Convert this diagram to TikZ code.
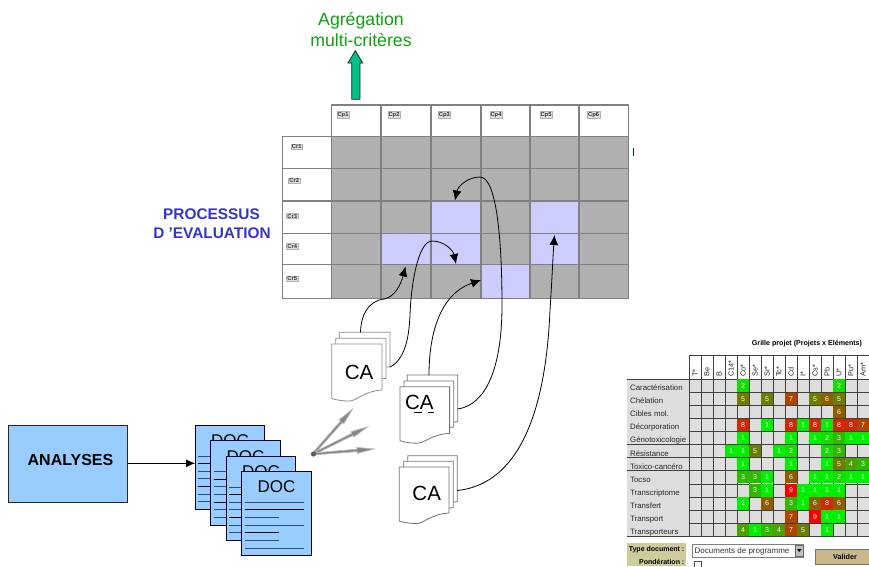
\documentclass[tikz,border=0pt]{standalone}
\usepackage{fontspec}
\setmainfont{Liberation Sans}
\usetikzlibrary{arrows.meta}
\definecolor{gridline}{HTML}{808080}
\definecolor{cellgray}{HTML}{B0B0B0}
\definecolor{cellhi}{HTML}{CCCCFF}
\definecolor{docblue}{HTML}{99CCFF}
\definecolor{docrule}{HTML}{2F4F6F}
\definecolor{agreen}{HTML}{12A012}
\definecolor{tealfill}{HTML}{00C08C}
\definecolor{procblue}{HTML}{3535C8}
\definecolor{formkhaki}{HTML}{CFCB9B}
\definecolor{btnkhaki}{HTML}{C8B88C}
\definecolor{vA}{HTML}{00F000}\definecolor{vB}{HTML}{14DC00}\definecolor{vC}{HTML}{2EB800}
\definecolor{vD}{HTML}{4CA000}\definecolor{vE}{HTML}{6E7C00}\definecolor{vF}{HTML}{8C5E00}
\definecolor{vG}{HTML}{AE4400}\definecolor{vH}{HTML}{D02800}\definecolor{vI}{HTML}{F80000}
\tikzset{
  gcell/.style={draw=gridline,line width=1.2pt,fill=cellgray},
  wcell/.style={draw=gridline,line width=1.2pt,fill=white},
  hcell/.style={draw=gridline,line width=1.2pt,fill=cellhi},
  chip/.style={draw=gray!60,fill=gray!25,line width=.6pt,inner sep=.7pt,font=\fontsize{5.8}{6}\selectfont\bfseries,text=black!80},
  flow/.style={black,line width=.8pt,-{Latex[length=10pt,width=9pt]}},
  sheetline/.style={line width=.8pt,fill=white},
  docsheet/.style={draw=black!80!blue,line width=.8pt,fill=docblue},
  grayarrow/.style={draw=gray!55,line width=.7pt,fill=gray!95},
  tcell/.style={draw=black!75,line width=.6pt,fill=black!13},
  tnum/.style={text=white,font=\fontsize{7}{8}\selectfont},
  tlabel/.style={anchor=base west,font=\fontsize{7.8}{8}\selectfont,text=black!85,inner sep=0pt},
  thead/.style={rotate=90,anchor=west,font=\fontsize{7.3}{8}\selectfont,text=black!85,inner sep=0pt},
  formlabel/.style={anchor=base east,inner sep=0pt,font=\fontsize{7}{8}\selectfont\bfseries},
}
% x y w hR hL colour
\newcommand{\casheet}[6]{\path[sheetline,draw=#6] (#1,#2) -- ({#1+#3},#2) -- ({#1+#3},{#2+#4})
  .. controls ({#1+#3-18},{#2+#4+1}) and ({#1+#3-26},{#2+#5+3}) .. ({#1+17},{#2+#5+2.5})
  .. controls ({#1+10},{#2+#5+2.5}) and ({#1+5},{#2+#5+1.5}) .. (#1,{#2+#5}) -- cycle;}
\newcommand{\docsheet}[3]{%
  \path[docsheet] (#1,#2) rectangle ++(69.5,84.5);
  \node[inner sep=0pt,font=\fontsize{17}{20}\selectfont] (#3) at ({#1+34.7},{#2+15.7}) {DOC};
  \foreach \d/\l/\c in {31/59/docrule,38.5/59/black,46/34/docrule,53.7/59/docrule,61.3/34/black,69/34/docrule,76.7/59/docrule}
    \draw[\c,line width=.8pt] ({#1+3},{#2+\d}) -- ++(\l,0);}
% angle, length
\newcommand{\grayspike}[2]{\path[grayarrow,shift={(fan)},rotate=#1] (0,1) -- ({#2-17},1.2) -- ({#2-17},3) -- (#2,0) -- ({#2-17},-3) -- ({#2-17},-1.2) -- (0,-1) -- cycle;}
\begin{document}
\begin{tikzpicture}[x=1pt,y=-1pt]
\clip (0,0) rectangle (869,566);
\fill[white] (0,0) rectangle (869,566);
% heading
\node[text=agreen,font=\fontsize{17.7}{20}\selectfont,align=center,inner sep=0pt] (agg) at (361,29.5) {Agrégation\\[1.8pt]multi-critères};
\path[draw=black!85,line width=.8pt,fill=tealfill] (351.7,99.3) -- (351.7,63) -- (348,63) -- (355.3,50.7) -- (362.7,63) -- (360,63) -- (360,99.3) -- cycle;
\node[text=procblue,font=\fontsize{15.4}{16}\selectfont\bfseries,inner sep=0pt] (proc1) at (211.5,214.3) {PROCESSUS};
\node[text=procblue,font=\fontsize{15.4}{16}\selectfont\bfseries,inner sep=0pt] (proc2) at (212,233.3) {D 'EVALUATION};
% matrix
\foreach \xa/\xb in {331.7/381,381/431,431/481,481/530,530/579,579/628.3}{
  \path[wcell] (\xa,105) rectangle (\xb,136.7);
  \foreach \ya/\yb in {136.7/168.3,168.3/201,201/233.3,233.3/264.3,264.3/298.3}
    \path[gcell] (\xa,\ya) rectangle (\xb,\yb);
}
\foreach \ya/\yb in {136.7/168.3,168.3/201,201/233.3,233.3/264.3,264.3/298.3}
  \path[wcell] (282.7,\ya) rectangle (331.7,\yb);
\path[hcell] (431,201) rectangle (481,233.3);
\path[hcell] (530,201) rectangle (579,233.3);
\path[hcell] (381,233.3) rectangle (431,264.3);
\path[hcell] (431,233.3) rectangle (481,264.3);
\path[hcell] (530,233.3) rectangle (579,264.3);
\path[hcell] (481,264.3) rectangle (530,298.3);
\foreach \n/\x in {1/343,2/394,3/444.3,4/496,5/546,6/593.7}
  \node[chip] (cp\n) at (\x,114.7) {Cp\n};
\foreach \n/\x/\y in {1/296.7/146.7,2/294.3/180.7,3/292.3/216,4/292.3/246.3,5/292.3/278.7}
  \node[chip] (cr\n) at (\x,\y) {Cr\n};
\draw[black!60!teal,line width=.9pt] (633,148) -- (633,156);
% CA stacks
\casheet{339.3}{332.3}{50.7}{34.5}{44}{black!45}
\casheet{335.7}{338.3}{50.3}{40}{48}{black!45}
\casheet{331.7}{344}{50.3}{46}{54.5}{black!45}
\node[inner sep=0pt,font=\fontsize{20.5}{24}\selectfont] (ca1) at (359,372) {CA};
\casheet{407.3}{375}{50.4}{46.7}{54}{black!55}
\casheet{404}{381}{49.7}{46}{54}{black!55}
\casheet{400}{386.7}{49.6}{46.6}{54}{black!55}
\node[inner sep=0pt,font=\fontsize{20.5}{24}\selectfont] (ca2) at (419.3,402.7) {CA};
\draw[black,line width=.6pt] (414,412.7) -- (421.7,412.7) (428,412.7) -- (434,412.7);
\casheet{407.7}{455.7}{49.5}{46}{54}{black!55}
\casheet{403.7}{461.3}{49.6}{46.4}{54}{black!55}
\casheet{399.3}{467}{49.7}{46}{54}{black!55}
\node[inner sep=0pt,font=\fontsize{20.5}{24}\selectfont] (ca3) at (426.7,493) {CA};
% analyses
\path[draw=black!85,line width=.9pt,fill=docblue] (8.3,425) rectangle (127.7,502.3);
\node[inner sep=0pt,font=\fontsize{16}{18}\selectfont\bfseries] (ana) at (70.5,459.5) {ANALYSES};
% DOC stack
\coordinate (docin) at (195,463.3);
\coordinate (anaout) at (127.7,463.3);
\docsheet{195.3}{425}{doca}
\docsheet{210.7}{440.6}{docb}
\docsheet{226.3}{456}{docc}
\docsheet{241.8}{471.2}{docd}
\draw[black,line width=.8pt,-{Latex[length=9pt,width=8pt]}] (anaout) -- (docin);
% gray arrows
\coordinate (fan) at (313,454);
\grayspike{48.6}{60}
\grayspike{26.5}{61}
\grayspike{4.7}{61.2}
\fill[gray!70!black] (313.5,454) circle (2.6pt);
% connectors
\coordinate (ta) at (405.5,266.5);
\coordinate (tb) at (456,264);
\coordinate (tc) at (481,280);
\coordinate (td) at (455,200.5);
\coordinate (te) at (554.5,235);
\coordinate (sa) at (360.5,332.3);
\coordinate (sb) at (390,367);
\coordinate (sc) at (429,375);
\coordinate (sd) at (457.7,409);
\coordinate (se) at (457.2,490.5);
\draw[flow] (sa) .. controls (361,315) and (368,301) .. (384,299) .. controls (395,297) and (401,284) .. (ta);
\draw[flow] (sb) .. controls (404,360) and (409,340) .. (410,315) .. controls (411,285) and (418,241) .. (432,241) .. controls (444,241) and (453,250) .. (tb);
\draw[flow] (sc) .. controls (429,345) and (435,296) .. (tc);
\draw[flow] (sd) .. controls (485,405) and (502,370) .. (502,305) .. controls (502,250) and (498,177) .. (480,177) .. controls (468,177) and (458,186) .. (td);
\draw[flow] (se) .. controls (510,485) and (545,430) .. (550,310) .. controls (552,280) and (553,255) .. (te);
% right table
\node[font=\fontsize{7.1}{8}\selectfont\bfseries,inner sep=0pt] (gtitle) at (807,344) {Grille projet (Projets x Eléments)};
\draw[black!75,line width=.6pt] (689,355) -- (869,355);
\foreach \i/\h in {0/T*,1/Be,2/B,3/C14*,4/Co*,5/Se*,6/Sr*,7/Tc*,8/Cd,9/I*,10/Cs*,11/Pb,12/U*,13/Pu*,14/Am*}{
  \draw[black!75,line width=.6pt] ({689+12*\i},355) -- ({689+12*\i},379);
  \node[thead] (h\i) at ({695+12*\i},377) {\h};
  \foreach \r in {0,...,11}
    \path[tcell] ({689+12*\i},{379+13.1*\r}) rectangle ++(12,13.1);
}
\foreach \r/\t in {0/Caractérisation,1/Chélation,2/Cibles mol.,3/Décorporation,4/Génotoxicologie,5/Résistance,6/Toxico-cancéro,7/Tocso,8/Transcriptome,9/Transfert,10/Transport,11/Transporteurs}{
  \path[fill=black!13] (627,{379+13.1*\r}) rectangle (689,{392.1+13.1*\r});
  \draw[black!75,line width=.6pt] (627,{392.1+13.1*\r}) -- (689,{392.1+13.1*\r});
  \node[tlabel] (l\r) at (630,{390.5+13.1*\r}) {\t};
}
\draw[black!75,line width=.6pt] (627,379) -- (689,379);
\foreach \c/\r/\v/\k in {%
4/0/2/vB,12/0/2/vB,
4/1/5/vE,6/1/5/vE,8/1/7/vG,10/1/5/vE,11/1/6/vF,12/1/5/vE,
12/2/6/vF,
4/3/8/vH,6/3/1/vA,8/3/8/vH,9/3/1/vA,10/3/8/vH,11/3/1/vA,12/3/8/vH,13/3/8/vH,14/3/7/vG,
4/4/1/vA,8/4/1/vA,10/4/1/vA,11/4/2/vB,12/4/3/vC,13/4/1/vA,14/4/1/vA,
3/5/1/vA,4/5/1/vA,5/5/5/vE,7/5/1/vA,8/5/2/vB,11/5/2/vB,12/5/3/vC,
4/6/1/vA,8/6/1/vA,11/6/1/vA,12/6/5/vE,13/6/4/vD,14/6/3/vC,
4/7/3/vC,5/7/3/vC,6/7/1/vA,8/7/6/vF,10/7/1/vA,11/7/1/vA,12/7/2/vB,13/7/1/vA,14/7/1/vA,
5/8/3/vC,6/8/1/vA,8/8/9/vI,9/8/1/vA,10/8/1/vA,11/8/1/vA,12/8/1/vA,
4/9/1/vA,6/9/6/vF,8/9/3/vC,9/9/1/vA,10/9/6/vF,11/9/8/vH,12/9/6/vF,
8/10/7/vG,10/10/9/vI,11/10/1/vA,12/10/1/vA,
4/11/4/vD,5/11/1/vA,6/11/3/vC,7/11/4/vD,8/11/7/vG,9/11/5/vE,11/11/1/vA}{
  \path[fill=\k] ({689.4+12*\c},{379.4+13.1*\r}) rectangle ++(11.2,12.3);
  \node[tnum] (n\c-\r) at ({695+12*\c},{385.6+13.1*\r}) {\v};
}
% form
\fill[formkhaki] (627,543) rectangle (686,566);
\node[formlabel] (f1) at (684.5,551.5) {Type document :};
\node[formlabel] (f2) at (684.5,564.5) {Pondération :};
\path[draw=black!50,line width=.6pt,fill=white] (692,544) rectangle (803.5,557);
\node[anchor=base west,inner sep=0pt,font=\fontsize{8}{9}\selectfont,text=black!80] (sel) at (694.5,553.5) {Documents de programme};
\path[draw=black!60,line width=.5pt,fill=black!25] (795.5,545) rectangle (803,556);
\fill[black] (797,549) -- (801.5,549) -- (799.2,552) -- cycle;
\path[draw=black!70,line width=.5pt,fill=white] (694,561) rectangle (701,568);
\path[draw=black!55,line width=.9pt,fill=btnkhaki] (815.7,549) rectangle (872,564);
\node[inner sep=0pt,font=\fontsize{7.2}{8}\selectfont\bfseries] (val) at (845,556.5) {Valider};
\end{tikzpicture}
\end{document}
